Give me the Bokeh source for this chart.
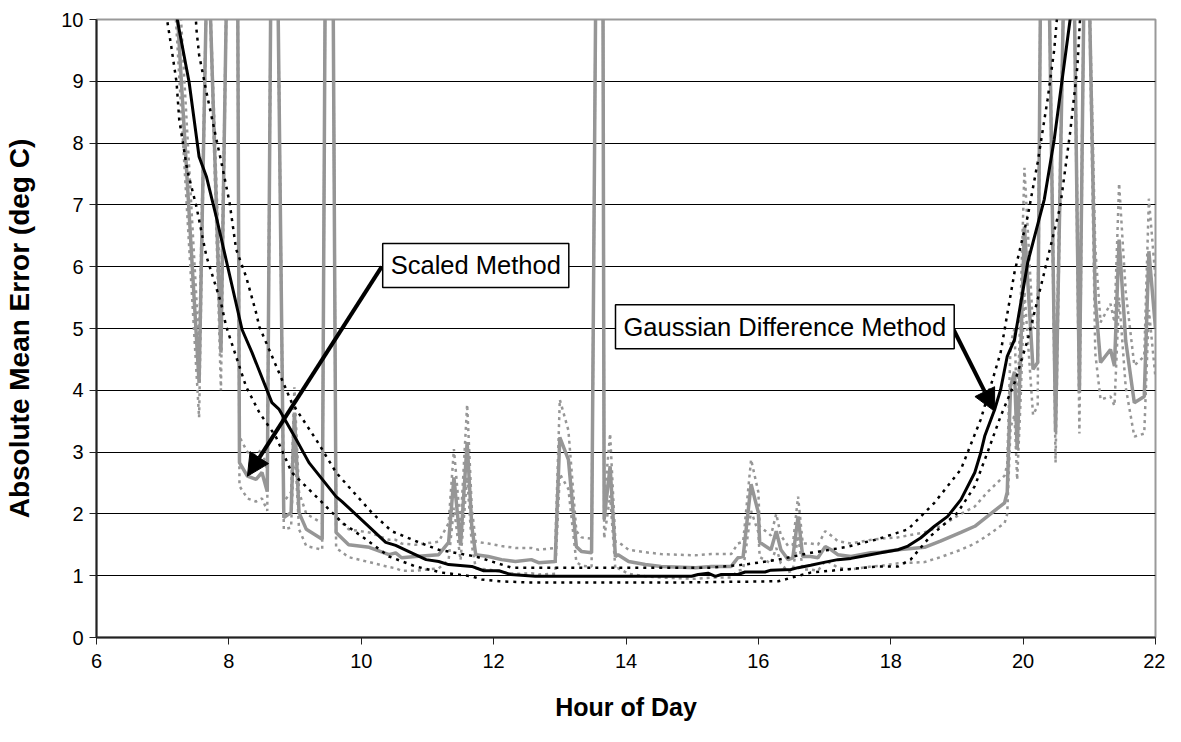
from bokeh.plotting import figure
from bokeh.models import Label, Arrow, NormalHead, FixedTicker
from bokeh.embed import file_html
from bokeh.resources import INLINE

# ---------------- data ----------------
# Gaussian Difference Method (black solid) and its dotted bounds
gauss_x = [7.10, 7.22, 7.40, 7.55, 7.66, 7.82, 8.20, 8.35, 8.65, 8.76, 9.02, 9.21,
           9.62, 9.71, 10.37, 10.52, 10.72, 10.98, 11.17, 11.32, 11.67, 11.85, 12.08,
           12.26, 12.63, 14.99, 15.09, 15.24, 15.35, 15.44, 15.69, 15.80, 16.10, 16.19,
           16.49, 16.60, 16.79, 17.01, 17.20, 17.40, 17.55, 17.85, 18.11, 18.26, 18.45,
           18.66, 18.86, 19.06, 19.27, 19.36, 19.42, 19.57, 19.66, 19.76, 19.87, 20.07,
           20.32, 20.47, 20.71, 20.85]
gauss_y = [11.0, 10.0, 8.98, 7.78, 7.46, 6.76, 4.98, 4.61, 3.80, 3.69, 3.20, 2.83,
           2.28, 2.20, 1.54, 1.49, 1.39, 1.26, 1.23, 1.18, 1.15, 1.08, 1.08,
           1.02, 0.99, 0.99, 1.02, 1.04, 0.99, 1.02, 1.02, 1.06, 1.06, 1.09,
           1.10, 1.13, 1.17, 1.22, 1.26, 1.28, 1.31, 1.37, 1.42, 1.48, 1.61,
           1.80, 1.96, 2.23, 2.67, 2.99, 3.26, 3.69, 4.01, 4.55, 4.82, 6.07,
           7.09, 8.06, 10.0, 11.0]

gauss_hi_x = [7.45, 7.51, 7.55, 7.66, 7.78, 7.90, 8.01, 8.11, 8.26, 8.41, 8.46, 8.76,
              8.95, 9.32, 9.62, 9.81, 10.16, 10.46, 10.87, 11.17, 11.73, 12.27, 12.78,
              15.29, 15.80, 16.30, 16.79, 17.31, 17.80, 18.26, 18.66, 19.06, 19.36,
              19.51, 19.66, 19.87, 20.07, 20.22, 20.37, 20.47, 20.55]
gauss_hi_y = [11.0, 9.84, 9.43, 8.83, 8.22, 7.62, 7.04, 6.28, 5.84, 5.26, 5.03, 4.28,
              3.80, 3.20, 2.67, 2.44, 2.02, 1.72, 1.54, 1.42, 1.31, 1.13, 1.13,
              1.13, 1.18, 1.26, 1.37, 1.46, 1.59, 1.75, 2.18, 2.72, 3.53,
              4.07, 4.61, 5.91, 6.82, 7.69, 8.71, 9.51, 10.5]

gauss_lo_x = [7.02, 7.07, 7.13, 7.21, 7.25, 7.37, 7.51, 7.66, 7.88, 7.96, 8.26, 8.46,
              8.71, 8.95, 9.32, 9.71, 10.07, 10.42, 10.82, 11.22, 11.67, 11.82, 12.08,
              12.53, 14.79, 16.30, 16.79, 17.80, 18.11, 18.30, 18.60, 19.01, 19.27,
              19.46, 19.66, 19.87, 20.07, 20.32, 20.56, 20.71, 20.82, 20.88]
gauss_lo_y = [10.6, 9.97, 9.56, 8.98, 8.38, 7.57, 6.97, 6.17, 5.42, 5.03, 4.06, 3.64,
              3.25, 2.67, 2.28, 1.86, 1.59, 1.31, 1.15, 1.05, 0.99, 0.94, 0.91,
              0.89, 0.89, 0.91, 1.05, 1.15, 1.15, 1.26, 1.64, 2.02, 2.45,
              2.99, 3.58, 4.12, 4.82, 5.91, 6.97, 8.17, 9.24, 10.4]

# Scaled Method (grey solid) and its dotted bounds
scaled_x = [7.20, 7.55, 7.68, 7.88, 7.98, 8.13, 8.16, 8.28, 8.41, 8.50, 8.58, 8.64,
            8.73, 8.83, 8.94, 8.99, 9.06, 9.17, 9.41, 9.46, 9.57, 9.62, 9.81, 10.12,
            10.42, 10.52, 10.61, 10.82, 11.17, 11.32, 11.40, 11.50, 11.60, 11.67, 11.73,
            11.92, 12.12, 12.33, 12.57, 12.68, 12.93, 13.00, 13.13, 13.25, 13.33, 13.48,
            13.55, 13.65, 13.67, 13.76, 13.84, 13.88, 14.04, 14.29, 14.53, 15.05, 15.29,
            15.59, 15.69, 15.77, 15.89, 16.00, 16.02, 16.19, 16.27, 16.34, 16.45, 16.52,
            16.60, 16.67, 16.79, 16.90, 17.01, 17.10, 17.20, 17.40, 17.70, 17.85, 18.11,
            18.51, 18.75, 19.06, 19.27, 19.46, 19.72, 19.76, 19.81, 19.87, 19.91, 19.96,
            20.02, 20.15, 20.22, 20.27, 20.38, 20.49, 20.63, 20.76, 20.85, 20.93, 20.98,
            21.09, 21.17, 21.32, 21.38, 21.45, 21.55, 21.68, 21.83, 21.90, 22.00]
scaled_y = [10.5, 4.12, 11.5, 4.61, 11.5, 11.5, 2.83, 2.61, 2.56, 2.67, 2.36, 11.5,
            11.5, 1.94, 2.02, 3.64, 2.02, 1.75, 1.59, 11.5, 11.5, 1.70, 1.50, 1.46,
            1.34, 1.37, 1.29, 1.31, 1.34, 1.54, 2.59, 1.49, 3.16, 1.80, 1.34,
            1.31, 1.26, 1.23, 1.26, 1.21, 1.23, 3.24, 2.88, 1.47, 1.39, 1.37,
            11.5, 11.5, 1.91, 2.77, 1.31, 1.34, 1.23, 1.18, 1.15, 1.13, 1.15,
            1.15, 1.29, 1.31, 2.48, 2.02, 1.54, 1.42, 1.72, 1.42, 1.26, 1.29,
            1.96, 1.31, 1.31, 1.29, 1.47, 1.42, 1.34, 1.31, 1.37, 1.38, 1.42,
            1.46, 1.56, 1.70, 1.80, 1.96, 2.18, 2.35, 4.06, 4.30, 3.04, 4.50,
            6.65, 4.34, 4.45, 11.5, 11.5, 3.32, 11.5, 11.5, 3.96, 11.5, 11.5,
            5.47, 4.45, 4.66, 4.39, 6.44, 4.80, 3.80, 3.90, 6.25, 5.00]
scaled_hi = [11.5, 4.70, 11.5, 5.20, 11.5, 11.5, 3.25, 3.00, 2.95, 3.05, 2.70, 11.5,
             11.5, 2.20, 2.35, 4.05, 2.35, 2.00, 1.85, 11.5, 11.5, 1.95, 1.75, 1.70,
             1.58, 1.58, 1.52, 1.50, 1.55, 1.85, 3.05, 1.80, 3.77, 2.10, 1.55,
             1.52, 1.48, 1.45, 1.45, 1.42, 1.45, 3.85, 3.35, 1.72, 1.62, 1.60,
             11.5, 11.5, 2.20, 3.30, 1.55, 1.55, 1.42, 1.38, 1.35, 1.33, 1.35,
             1.35, 1.52, 1.55, 2.88, 2.35, 1.80, 1.65, 2.00, 1.65, 1.48, 1.50,
             2.28, 1.52, 1.52, 1.50, 1.72, 1.65, 1.56, 1.52, 1.58, 1.60, 1.62,
             1.70, 1.80, 2.00, 2.12, 2.35, 2.62, 2.80, 4.75, 5.00, 3.60, 5.30,
             7.60, 5.00, 5.10, 11.5, 11.5, 3.90, 11.5, 11.5, 4.60, 11.5, 11.5,
             6.30, 5.10, 5.40, 5.10, 7.35, 5.60, 4.40, 4.55, 7.10, 5.80]
scaled_lo = [10.0, 3.56, 11.5, 4.00, 11.5, 11.5, 2.45, 2.25, 2.20, 2.25, 2.05, 11.5,
             11.5, 1.75, 1.78, 3.20, 1.75, 1.48, 1.42, 11.5, 11.5, 1.45, 1.30, 1.22,
             1.14, 1.12, 1.08, 1.08, 1.12, 1.25, 2.10, 1.25, 2.60, 1.50, 1.12,
             1.10, 1.06, 1.03, 1.04, 1.02, 1.03, 2.65, 2.40, 1.22, 1.16, 1.15,
             11.5, 11.5, 1.60, 2.30, 1.10, 1.12, 1.03, 0.99, 0.97, 0.95, 0.97,
             0.97, 1.08, 1.10, 2.05, 1.70, 1.30, 1.20, 1.45, 1.20, 1.06, 1.08,
             1.65, 1.10, 1.10, 1.08, 1.24, 1.20, 1.13, 1.10, 1.15, 1.16, 1.20,
             1.22, 1.30, 1.42, 1.52, 1.65, 1.85, 2.00, 3.40, 3.60, 2.55, 3.80,
             5.60, 3.60, 3.75, 11.5, 11.5, 2.83, 11.5, 11.5, 3.30, 11.5, 11.5,
             4.60, 3.85, 3.90, 3.75, 5.50, 4.05, 3.25, 3.30, 5.30, 4.20]

x_ticks = [6, 8, 10, 12, 14, 16, 18, 20, 22]
y_ticks = [0, 1, 2, 3, 4, 5, 6, 7, 8, 9, 10]

x_title = "Hour of Day"
y_title = "Absolute Mean Error (deg C)"
label_scaled = "Scaled Method"
label_gauss = "Gaussian Difference Method"

# ---------------- figure ----------------
FONT = "Liberation Sans"
GREY = "#969696"

p = figure(width=1165, height=726, x_range=(6, 22), y_range=(0, 10),
           output_backend="svg", toolbar_location=None,
           min_border_left=96, min_border_right=10, min_border_top=19,
           min_border_bottom=89)
p.background_fill_color = "white"
p.border_fill_color = "white"
p.outline_line_color = "#999999"
p.outline_line_width = 2

p.xgrid.visible = False
p.ygrid.grid_line_color = "black"
p.ygrid.grid_line_width = 1
p.ygrid.ticker = FixedTicker(ticks=y_ticks)

for ax, ticks in ((p.xaxis, x_ticks), (p.yaxis, y_ticks)):
    ax.ticker = FixedTicker(ticks=ticks)
    ax.minor_tick_line_color = None
    ax.major_tick_in = 0
    ax.major_tick_out = 7
    ax.axis_line_color = "#222222"
    ax.axis_line_width = 2
    ax.major_tick_line_color = "#222222"
    ax.major_tick_line_width = 1
    ax.major_label_text_font = FONT
    ax.major_label_text_font_size = "20px"
    ax.major_label_text_color = "black"
    ax.axis_label_text_font = FONT
    ax.axis_label_text_font_style = "bold"
    ax.axis_label_text_color = "black"

p.xaxis.axis_label = x_title
p.yaxis.axis_label = y_title
p.xaxis.axis_label_text_font_size = "25px"
p.yaxis.axis_label_text_font_size = "28px"
p.xaxis.major_label_standoff = 9
p.xaxis.axis_label_standoff = 22
p.yaxis.major_label_standoff = 6
p.yaxis.axis_label_standoff = 23

# grey (Scaled Method)
p.line(scaled_x, scaled_hi, line_color=GREY, line_width=2.5, line_dash="3 4")
p.line(scaled_x, scaled_lo, line_color=GREY, line_width=2.5, line_dash="3 4")
p.line(scaled_x, scaled_y, line_color=GREY, line_width=3.5)

# black (Gaussian Difference Method)
p.line(gauss_hi_x, gauss_hi_y, line_color="black", line_width=2.5, line_dash="3 5")
p.line(gauss_lo_x, gauss_lo_y, line_color="black", line_width=2.5, line_dash="3 5")
p.line(gauss_x, gauss_y, line_color="black", line_width=3)

# annotations
p.add_layout(Arrow(end=NormalHead(size=22, fill_color="black", line_color="black"),
                   x_start=10.31, y_start=6.00, x_end=8.28, y_end=2.61,
                   line_color="black", line_width=4))
p.add_layout(Arrow(end=NormalHead(size=22, fill_color="black", line_color="black"),
                   x_start=18.95, y_start=4.98, x_end=19.57, y_end=3.66,
                   line_color="black", line_width=4))

for txt, cx, cy in ((label_scaled, 11.73, 6.02), (label_gauss, 16.40, 5.03)):
    p.add_layout(Label(x=cx, y=cy, text=txt, text_align="center",
                       text_baseline="middle", text_font=FONT,
                       text_font_size="25.5px", text_color="black",
                       background_fill_color="white", background_fill_alpha=1.0,
                       border_line_color="black", border_line_width=1.5,
                       padding=8))

open("out.html", "w").write(file_html(p, INLINE))
